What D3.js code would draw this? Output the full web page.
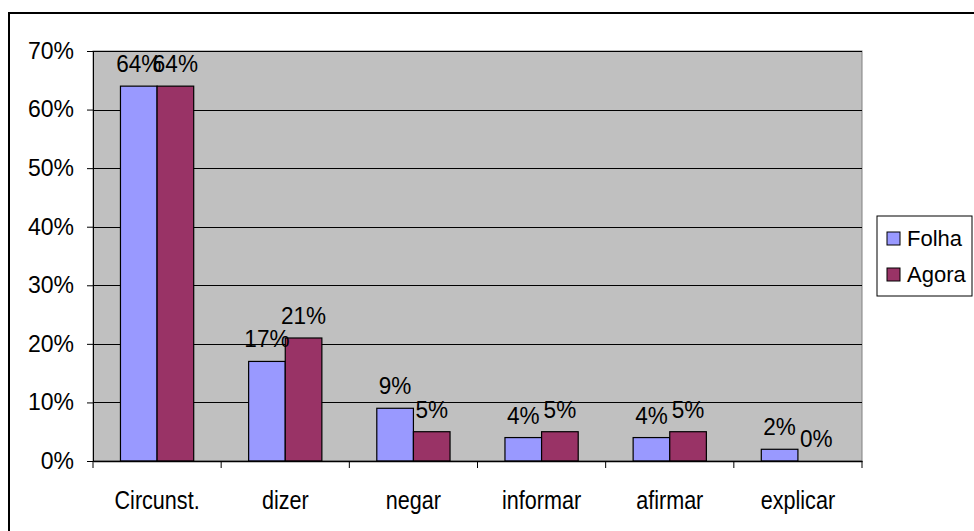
<!DOCTYPE html>
<html>
<head>
<meta charset="utf-8">
<script src="https://cdn.jsdelivr.net/npm/d3@7"></script>
<style>
  body { margin: 0; background: #fff; }
  text { font-family: "Liberation Sans", Arial, sans-serif; fill: #000; }
</style>
</head>
<body>
<div id="chart-container"></div>
<script>
const categories = ["Circunst.", "dizer", "negar", "informar", "afirmar", "explicar"];
const seriesNames = ["Folha", "Agora"];
const folha = [64, 17, 9, 4, 4, 2];
const agora = [64, 21, 5, 5, 5, 0];
const yTicks = [0, 10, 20, 30, 40, 50, 60, 70];

const pallete = { Folha: "#9999FF", Agora: "#993366" };

const plot = { left: 93, right: 862, top: 51, bottom: 461 };

const svg = d3
  .select("#chart-container")
  .append("svg")
  .attr("width", 974)
  .attr("height", 531);

// outer chart frame (runs off the right and bottom edges)
svg
  .append("rect")
  .attr("x", 9)
  .attr("y", 13)
  .attr("width", 1000)
  .attr("height", 600)
  .style("fill", "white")
  .style("stroke", "black")
  .style("stroke-width", 2);

const x = d3
  .scaleBand()
  .domain(categories)
  .range([plot.left, plot.right]);

const y = d3.scaleLinear().domain([0, 70]).range([plot.bottom, plot.top]);

const xInner = d3
  .scaleBand()
  .domain(seriesNames)
  .range([0, x.bandwidth()])
  .paddingInner(0)
  .paddingOuter(0.75);

// plot background
svg
  .append("rect")
  .attr("x", plot.left)
  .attr("y", plot.top)
  .attr("width", plot.right - plot.left)
  .attr("height", plot.bottom - plot.top)
  .style("fill", "#C0C0C0")
  .style("stroke", "#808080")
  .style("stroke-width", 1);

// gridlines
svg
  .append("g")
  .selectAll("line")
  .data(yTicks.slice(1))
  .enter()
  .append("line")
  .attr("x1", plot.left)
  .attr("x2", plot.right)
  .attr("y1", (d) => Math.round(y(d)) + 0.5)
  .attr("y2", (d) => Math.round(y(d)) + 0.5)
  .style("stroke", "#000")
  .style("stroke-width", 1);

// y axis
const yAxis = svg
  .append("g")
  .attr("transform", `translate(${plot.left}, 0)`)
  .call(
    d3
      .axisLeft(y)
      .tickValues(yTicks)
      .tickSize(6)
      .tickPadding(13)
      .tickFormat((d) => d + "%")
  );
yAxis.select(".domain").style("stroke", "#000");
yAxis.selectAll("line").style("stroke", "#000");
yAxis
  .selectAll("text")
  .style("font-size", "23px")
  .style("font-family", '"Liberation Sans", Arial, sans-serif');

// bars
const groups = svg
  .append("g")
  .selectAll("g")
  .data(categories)
  .enter()
  .append("g")
  .attr("transform", (d) => `translate(${x(d)}, 0)`);

const barData = (c, i) =>
  seriesNames.map((s) => ({ series: s, value: s === "Folha" ? folha[i] : agora[i] }));

groups
  .selectAll("rect")
  .data(barData)
  .enter()
  .append("rect")
  .attr("x", (d) => xInner(d.series))
  .attr("y", (d) => y(d.value))
  .attr("width", xInner.bandwidth())
  .attr("height", (d) => y(0) - y(d.value))
  .style("fill", (d) => pallete[d.series])
  .style("stroke", "#000")
  .style("stroke-width", 1.2);

groups
  .selectAll("text")
  .data(barData)
  .enter()
  .append("text")
  .attr("text-anchor", "middle")
  .attr("x", (d) => xInner(d.series) + xInner.bandwidth() / 2)
  .attr("y", (d) => y(d.value) - 14)
  .style("font-size", "24px")
  .style("transform-box", "fill-box")
  .style("transform-origin", "center")
  .style("transform", "scaleX(0.94)")
  .text((d) => d.value + "%");

// x axis
const xAxis = svg
  .append("g")
  .attr("transform", `translate(0, ${plot.bottom})`)
  .call(d3.axisBottom(x).tickSize(0).tickPadding(30));
xAxis.select(".domain").style("stroke", "#000").style("stroke-width", 1.5);
xAxis
  .selectAll("text")
  .style("font-size", "26px")
  .style("font-family", '"Liberation Sans", Arial, sans-serif')
  .style("transform-box", "fill-box")
  .style("transform-origin", "center")
  .style("transform", "scaleX(0.83)");

// category separators
svg
  .append("g")
  .selectAll("line")
  .data(categories.map((c) => x(c)).concat([plot.right]))
  .enter()
  .append("line")
  .attr("x1", (d) => d)
  .attr("x2", (d) => d)
  .attr("y1", plot.bottom)
  .attr("y2", plot.bottom + 7)
  .style("stroke", "#000");

// legend
const legend = svg.append("g").attr("transform", "translate(877, 216)");
legend
  .append("rect")
  .attr("width", 95)
  .attr("height", 80)
  .style("fill", "white")
  .style("stroke", "#000");

const items = legend
  .selectAll("g")
  .data(seriesNames)
  .enter()
  .append("g")
  .attr("transform", (d, i) => `translate(10, ${16 + i * 36})`);

items
  .append("rect")
  .attr("width", 13)
  .attr("height", 13)
  .style("fill", (d) => pallete[d])
  .style("stroke", "#000");

items
  .append("text")
  .attr("x", 20)
  .attr("y", 14)
  .style("font-size", "22px")
  .text((d) => d);
</script>
</body>
</html>
